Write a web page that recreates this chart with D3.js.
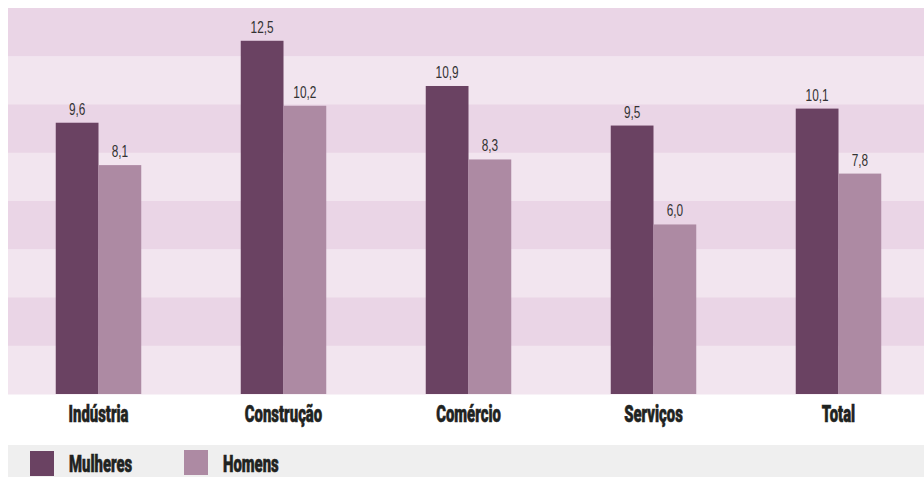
<!DOCTYPE html>
<html>
<head>
<meta charset="utf-8">
<script src="https://cdn.jsdelivr.net/npm/d3@7/dist/d3.min.js"></script>
<style>
  html, body { margin: 0; padding: 0; background: #ffffff; }
  svg { display: block; }
  .cat { font-family: Roboto, "Liberation Sans", sans-serif; font-weight: 900; font-size: 24px; fill: #1f2321; stroke: #1f2321; stroke-width: 0.6px; }
  .val { font-family: "Liberation Sans", Arial, sans-serif; font-size: 16px; fill: #333333; }
</style>
</head>
<body>
<div id="chart"></div>
<script>
// Sectors and rates (%) by sex
const categories = ["Indústria", "Construção", "Comércio", "Serviços", "Total"];
const seriesNames = ["Mulheres", "Homens"];
const mulheres = [9.6, 12.5, 10.9, 9.5, 10.1];
const homens = [8.1, 10.2, 8.3, 6.0, 7.8];
const colors = ["#6a4262", "#ad8aa3"];

const W = 924, H = 477;
const plot = { left: 8, right: 924, top: 8, bottom: 394 };
const yMax = 13.66;
const stripeCount = 8;
const catSquash = 0.62;   // horizontal condensing of the heavy labels
const valSquash = 0.74;   // horizontal condensing of the value labels

const svg = d3.select("#chart").append("svg")
  .attr("width", W).attr("height", H);

// Alternating background stripes
const stripeH = (plot.bottom - plot.top) / stripeCount;
svg.append("g").selectAll("rect")
  .data(d3.range(stripeCount))
  .join("rect")
  .attr("x", plot.left)
  .attr("y", i => plot.top + i * stripeH)
  .attr("width", plot.right - plot.left)
  .attr("height", stripeH + 0.5)
  .attr("fill", i => i % 2 === 0 ? "#ead5e6" : "#f2e5ef");

const x0 = d3.scaleBand().domain(categories).range([6, 931]);
const x1 = d3.scaleBand().domain(seriesNames).range([0, 85.5]);
const y = d3.scaleLinear().domain([0, yMax]).range([plot.bottom, plot.top]);

const rows = categories.map((c, i) => ({
  cat: c,
  vals: [
    { s: seriesNames[0], v: mulheres[i], color: colors[0] },
    { s: seriesNames[1], v: homens[i], color: colors[1] }
  ]
}));

const groups = svg.append("g").selectAll("g")
  .data(rows)
  .join("g")
  .attr("transform", d => `translate(${x0(d.cat) + x0.bandwidth() / 2 - 42.75},0)`);

groups.selectAll("rect")
  .data(d => d.vals)
  .join("rect")
  .attr("x", d => x1(d.s))
  .attr("y", d => y(d.v))
  .attr("width", x1.bandwidth())
  .attr("height", d => y(0) - y(d.v))
  .attr("fill", d => d.color);

const fmt = v => d3.format(".1f")(v).replace(".", ",");
groups.selectAll("text")
  .data(d => d.vals)
  .join("text")
  .attr("class", "val")
  .attr("text-anchor", "middle")
  .attr("transform", d => `translate(${x1(d.s) + x1.bandwidth() / 2},${y(d.v) - 8}) scale(${valSquash},1)`)
  .text(d => fmt(d.v));

// Category axis
const xAxis = svg.append("g")
  .attr("transform", `translate(0,${plot.bottom})`)
  .call(d3.axisBottom(x0).tickSize(0).tickPadding(0));
xAxis.select(".domain").remove();
xAxis.attr("font-family", null).attr("font-size", null);
xAxis.selectAll("text")
  .attr("class", "cat")
  .attr("fill", null)
  .attr("y", 0)
  .attr("dy", null)
  .attr("transform", `translate(0,28) scale(${catSquash},1)`);

// Legend
const legend = svg.append("g");
legend.append("rect")
  .attr("x", plot.left).attr("y", 445)
  .attr("width", plot.right - plot.left).attr("height", H - 445)
  .attr("fill", "#efefef");
const legendX = [30, 184];
const items = legend.selectAll("g.item")
  .data(seriesNames)
  .join("g")
  .attr("class", "item")
  .attr("transform", (d, i) => `translate(${legendX[i]},451)`);
items.append("rect")
  .attr("width", 24).attr("height", 25)
  .attr("y", (d, i) => i === 0 ? 0 : -1)
  .attr("fill", (d, i) => colors[i]);
items.append("text")
  .attr("class", "cat")
  .attr("transform", `translate(39,21) scale(${catSquash},1)`)
  .text(d => d);
</script>
</body>
</html>
